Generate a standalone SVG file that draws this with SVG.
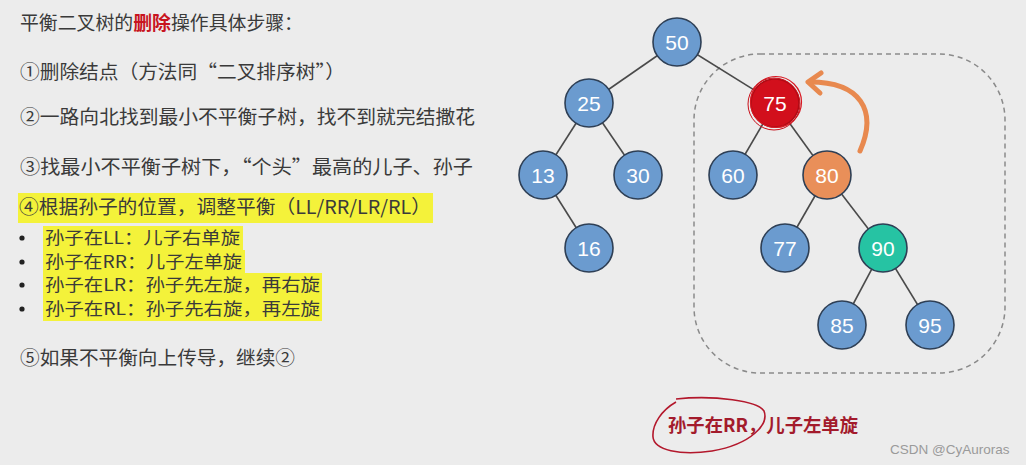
<svg xmlns="http://www.w3.org/2000/svg" width="1026" height="465" viewBox="0 0 1026 465">
<style>
.t{font-family:"Noto Sans CJK SC","Noto Sans",sans-serif;font-size:19px;fill:#3a3a3a}
.b{font-family:"Noto Sans CJK SC","Noto Sans",sans-serif;font-size:17.5px;fill:#3a3a3a}
.hl{fill:#f4f23a}
.edge{stroke:#4a4a4a;stroke-width:1.6}
.n{stroke:#2e3f55;stroke-width:1.6}
.blue{fill:#6b9bcf}
.nt{font-family:"Liberation Sans","Helvetica",sans-serif;font-size:21px;fill:#ffffff;text-anchor:middle;dominant-baseline:central}
</style>
<rect width="1026" height="465" fill="#ececec"/>
<g id="text">
<rect class="hl" x="18" y="193" width="415" height="30"/>
<rect class="hl" x="43" y="226" width="200" height="24"/>
<rect class="hl" x="43" y="250" width="202" height="24"/>
<rect class="hl" x="43" y="273" width="279" height="48"/>
<text class="t" x="20" y="30" textLength="283" lengthAdjust="spacingAndGlyphs">平衡二叉树的<tspan fill="#c8141e" font-weight="bold">删除</tspan>操作具体步骤：</text>
<text class="t" x="20" y="79" textLength="325" lengthAdjust="spacingAndGlyphs">①删除结点（方法同“二叉排序树”）</text>
<text class="t" x="20" y="124" textLength="455" lengthAdjust="spacingAndGlyphs">②一路向北找到最小不平衡子树，找不到就完结撒花</text>
<text class="t" x="20" y="174" textLength="453" lengthAdjust="spacingAndGlyphs">③找最小不平衡子树下，“个头”最高的儿子、孙子</text>
<text class="t" x="19" y="214" textLength="412" lengthAdjust="spacingAndGlyphs">④根据孙子的位置，调整平衡（LL/RR/LR/RL）</text>
<circle cx="22" cy="238" r="2.6" fill="#222"/>
<circle cx="22" cy="262" r="2.6" fill="#222"/>
<circle cx="22" cy="285" r="2.6" fill="#222"/>
<circle cx="22" cy="309" r="2.6" fill="#222"/>
<text class="b" x="45" y="244" textLength="195" lengthAdjust="spacingAndGlyphs">孙子在LL：儿子右单旋</text>
<text class="b" x="45" y="268" textLength="197" lengthAdjust="spacingAndGlyphs">孙子在RR：儿子左单旋</text>
<text class="b" x="45" y="291" textLength="275" lengthAdjust="spacingAndGlyphs">孙子在LR：孙子先左旋，再右旋</text>
<text class="b" x="45" y="315" textLength="275" lengthAdjust="spacingAndGlyphs">孙子在RL：孙子先右旋，再左旋</text>
<text class="t" x="20" y="365" textLength="275" lengthAdjust="spacingAndGlyphs">⑤如果不平衡向上传导，继续②</text>
</g>
<rect id="subtree" x="694" y="54" width="311" height="319" rx="66" ry="66" fill="none" stroke="#8a8a8a" stroke-width="1.5" stroke-dasharray="5,4"/>
<g id="connectors">
<line class="edge" x1="677" y1="42" x2="589" y2="103"/>
<line class="edge" x1="677" y1="42" x2="775" y2="103"/>
<line class="edge" x1="589" y1="103" x2="543" y2="175"/>
<line class="edge" x1="589" y1="103" x2="638" y2="175"/>
<line class="edge" x1="543" y1="175" x2="589" y2="248"/>
<line class="edge" x1="775" y1="103" x2="733" y2="175"/>
<line class="edge" x1="775" y1="103" x2="827" y2="175"/>
<line class="edge" x1="827" y1="175" x2="785" y2="248"/>
<line class="edge" x1="827" y1="175" x2="883" y2="248"/>
<line class="edge" x1="883" y1="248" x2="842" y2="325"/>
<line class="edge" x1="883" y1="248" x2="930" y2="325"/>
</g>
<g id="n50"><circle class="n blue" cx="677" cy="42" r="24"/><text class="nt" x="677" y="42">50</text></g>
<g id="n25"><circle class="n blue" cx="589" cy="103" r="24"/><text class="nt" x="589" y="103">25</text></g>
<g id="n75"><circle cx="775" cy="103" r="24" fill="#d20f1c" stroke="#b00a14" stroke-width="1.6"/>
<circle cx="776" cy="102" r="25.5" fill="none" stroke="#d81822" stroke-width="1.2"/>
<circle cx="774" cy="104" r="26" fill="none" stroke="#c8101a" stroke-width="1"/>
<text class="nt" x="775" y="103">75</text></g>
<g id="n13"><circle class="n blue" cx="543" cy="175" r="24"/><text class="nt" x="543" y="175">13</text></g>
<g id="n30"><circle class="n blue" cx="638" cy="175" r="24"/><text class="nt" x="638" y="175">30</text></g>
<g id="n60"><circle class="n blue" cx="733" cy="175" r="24"/><text class="nt" x="733" y="175">60</text></g>
<g id="n80"><circle class="n" cx="827" cy="175" r="24" fill="#e98f59"/><text class="nt" x="827" y="175">80</text></g>
<g id="n16"><circle class="n blue" cx="589" cy="248" r="24"/><text class="nt" x="589" y="248">16</text></g>
<g id="n77"><circle class="n blue" cx="785" cy="248" r="24"/><text class="nt" x="785" y="248">77</text></g>
<g id="n90"><circle class="n" cx="883" cy="248" r="24" fill="#26c3a3"/><text class="nt" x="883" y="248">90</text></g>
<g id="n85"><circle class="n blue" cx="842" cy="325" r="24"/><text class="nt" x="842" y="325">85</text></g>
<g id="n95"><circle class="n blue" cx="930" cy="325" r="24"/><text class="nt" x="930" y="325">95</text></g>
<g id="arrow" fill="none" stroke="#e8894f" stroke-width="5" stroke-linecap="round" stroke-linejoin="round">
<path d="M860,151 C878,110 860,82 810,82"/>
<path d="M821,73 L808,82 L820,93"/>
</g>
<g id="note">
<path d="M676,399 C715,395 758,401 764,411 C769,424 752,444 712,451 C680,456 654,450 653,437 C652,424 662,410 676,402" fill="none" stroke="#b3182c" stroke-width="1.6"/>
<text x="668" y="432" font-family="Noto Sans CJK SC,sans-serif" font-size="18.5" font-weight="bold" fill="#a31b2c" textLength="190" lengthAdjust="spacingAndGlyphs">孙子在RR，儿子左单旋</text>
</g>
<text x="890" y="454" font-family="Liberation Sans,sans-serif" font-size="13.5" fill="#9a9a9a">CSDN @CyAuroras</text>
</svg>
